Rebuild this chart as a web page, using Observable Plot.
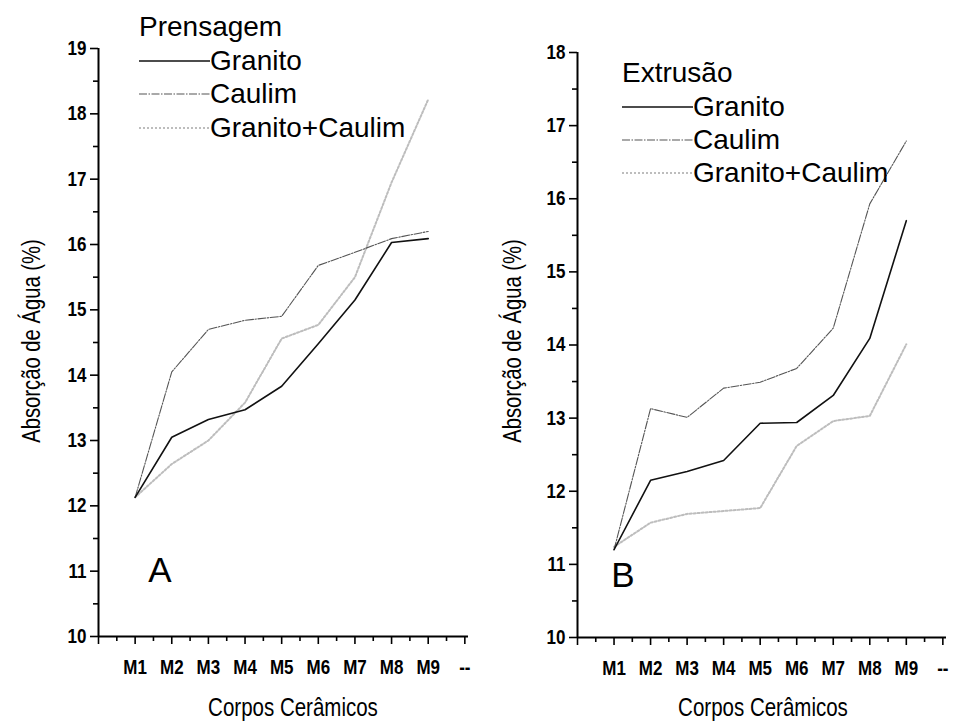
<!DOCTYPE html>
<html>
<head>
<meta charset="utf-8">
<script src="https://cdn.jsdelivr.net/npm/d3@7"></script>
<script src="https://cdn.jsdelivr.net/npm/@observablehq/plot@0.6"></script>
<style>
  html, body { margin: 0; padding: 0; background: #fff; }
  #root { position: relative; width: 953px; height: 724px; background: #fff; font-family: "Liberation Sans", Arial, sans-serif; color: #000; overflow: hidden; }
  .abs { position: absolute; white-space: nowrap; }
  .ytitle { font-size: 25px; transform: translate(-50%, -50%) rotate(-90deg) scaleX(0.81); }
  .xtitle { font-size: 25px; transform: translate(-50%, -50%) scaleX(0.82); }
  .legtitle { font-size: 28px; transform: translateY(-50%); }
  .legitem { font-size: 28px; transform: translateY(-50%); display: flex; align-items: center; }
  .letter { font-size: 35px; transform: translate(-50%, -50%); }
</style>
</head>
<body>
<div id="root">
  <div id="pA" class="abs" style="left:0;top:0"></div>
  <div id="pB" class="abs" style="left:480px;top:0"></div>
</div>
<script>
// ---- data ----
const corpos = ["M1", "M2", "M3", "M4", "M5", "M6", "M7", "M8", "M9"];
const xTickLabels = ["M1", "M2", "M3", "M4", "M5", "M6", "M7", "M8", "M9", "--"];
const seriesNames = ["Granito", "Caulim", "Granito+Caulim"];

// A: Prensagem
const granitoPrensagem = [12.13, 13.05, 13.32, 13.47, 13.83, 14.48, 15.15, 16.03, 16.09];
const caulimPrensagem  = [12.13, 14.05, 14.70, 14.84, 14.90, 15.68, 15.88, 16.09, 16.20];
const gcPrensagem      = [12.13, 12.64, 13.00, 13.58, 14.56, 14.77, 15.50, 16.95, 18.22];
const yTicksA = [10, 11, 12, 13, 14, 15, 16, 17, 18, 19];
const yMinorA = [10.5, 11.5, 12.5, 13.5, 14.5, 15.5, 16.5, 17.5, 18.5];

// B: Extrusão
const granitoExtrusao = [11.20, 12.15, 12.27, 12.42, 12.93, 12.94, 13.31, 14.09, 15.70];
const caulimExtrusao  = [11.20, 13.13, 13.01, 13.41, 13.49, 13.68, 14.23, 15.93, 16.79];
const gcExtrusao      = [11.24, 11.57, 11.69, 11.73, 11.77, 12.62, 12.96, 13.03, 14.01];
const yTicksB = [10, 11, 12, 13, 14, 15, 16, 17, 18];
const yMinorB = [10.5, 11.5, 12.5, 13.5, 14.5, 15.5, 16.5, 17.5];

const xMajor = [0, 1, 2, 3, 4, 5, 6, 7, 8, 9, 10];
const xMinor = [0.5, 1.5, 2.5, 3.5, 4.5, 5.5, 6.5, 7.5, 8.5, 9.5];

// ---- styles ----
const styles = {
  "Granito": {stroke: "#111", strokeWidth: 1.6},
  "Caulim": {stroke: "#555", strokeWidth: 1.1, strokeDasharray: "8,1.5,1.5,1.5"},
  "Granito+Caulim": {stroke: "#bdbdbd", strokeWidth: 2, strokeDasharray: "2,2"}
};
const tickFont = "'Liberation Sans', Arial, sans-serif";

function rows(arr, s) { return arr.map((v, i) => ({corpo: corpos[i], x: i + 1, y: v, s})); }

// horizontally condense tick labels around their anchor (the reference's lettering is narrow)
function condense(svg, k) {
  svg.querySelectorAll("text").forEach(t => {
    const tr = t.getAttribute("transform") || "";
    t.setAttribute("transform", `${tr} scale(${k},1)`);
  });
  return svg;
}

function panel(o) {
  const svg = Plot.plot({
    width: o.width, height: 724,
    marginLeft: o.ml, marginRight: o.mr, marginTop: o.mt, marginBottom: o.mb,
    x: {domain: [0, 10.1], label: null},
    y: {domain: [o.yTicks[0], o.yTicks[o.yTicks.length - 1]], label: null},
    style: {fontFamily: tickFont, fontSize: "20px", fontWeight: "bold", color: "#000", background: "transparent", overflow: "visible"},
    marks: [
      Plot.axisY(o.yTicks, {tickSize: 8, tickPadding: 4, strokeWidth: 1.6, label: null, fontSize: 20, tickFormat: d => String(d)}),
      Plot.axisY(o.yMinor, {tickSize: 5, tickFormat: () => "", strokeWidth: 1.6, label: null}),
      Plot.axisX(xMajor, {tickSize: 8, tickPadding: 15, strokeWidth: 1.6, label: null, fontSize: 20, tickFormat: i => i === 0 ? "" : xTickLabels[i - 1]}),
      Plot.axisX(xMinor, {tickSize: 5, tickFormat: () => "", strokeWidth: 1.6, label: null}),
      Plot.ruleX([0], {strokeWidth: 2}),
      Plot.ruleY([o.yTicks[0]], {strokeWidth: 2}),
      Plot.line(rows(o.series[2], seriesNames[2]), {x: "x", y: "y", ...styles[seriesNames[2]]}),
      Plot.line(rows(o.series[1], seriesNames[1]), {x: "x", y: "y", ...styles[seriesNames[1]]}),
      Plot.line(rows(o.series[0], seriesNames[0]), {x: "x", y: "y", ...styles[seriesNames[0]]})
    ]
  });
  return condense(svg, 0.85);
}

document.getElementById("pA").appendChild(panel({
  width: 480, ml: 98, mr: 12, mt: 48, mb: 88,
  yTicks: yTicksA, yMinor: yMinorA,
  series: [granitoPrensagem, caulimPrensagem, gcPrensagem]
}));
document.getElementById("pB").appendChild(panel({
  width: 473, ml: 97, mr: 7, mt: 52, mb: 87,
  yTicks: yTicksB, yMinor: yMinorB,
  series: [granitoExtrusao, caulimExtrusao, gcExtrusao]
}));

// ---- overlays: titles, legends, letters ----
const root = document.getElementById("root");
function addDiv(cls, text, left, top) {
  const d = document.createElement("div");
  d.className = "abs " + cls;
  d.style.left = left + "px";
  d.style.top = top + "px";
  d.textContent = text;
  root.appendChild(d);
  return d;
}
const yTitle = "Absorção de Água (%)";
const xTitle = "Corpos Cerâmicos";
addDiv("ytitle", yTitle, 31, 341);
addDiv("ytitle", yTitle, 512, 341);
addDiv("xtitle", xTitle, 293, 707);
addDiv("xtitle", xTitle, 763, 707);
addDiv("letter", "A", 160, 570);
addDiv("letter", "B", 623, 575);

function legend(title, left, titleTop, itemTops) {
  addDiv("legtitle", title, left, titleTop);
  seriesNames.forEach((name, i) => {
    const d = addDiv("legitem", "", left, itemTops[i]);
    const s = styles[name];
    const svg = d3.create("svg").attr("width", 71).attr("height", 10);
    svg.append("line").attr("x1", 0).attr("x2", 71).attr("y1", 5).attr("y2", 5)
      .attr("stroke", s.stroke).attr("stroke-width", s.strokeWidth)
      .attr("stroke-dasharray", s.strokeDasharray || null);
    d.appendChild(svg.node());
    const t = document.createElement("span");
    t.textContent = name;
    d.appendChild(t);
  });
}
legend("Prensagem", 139, 27, [61, 94, 128]);
legend("Extrusão", 622, 73, [107, 140, 173]);
</script>
</body>
</html>
